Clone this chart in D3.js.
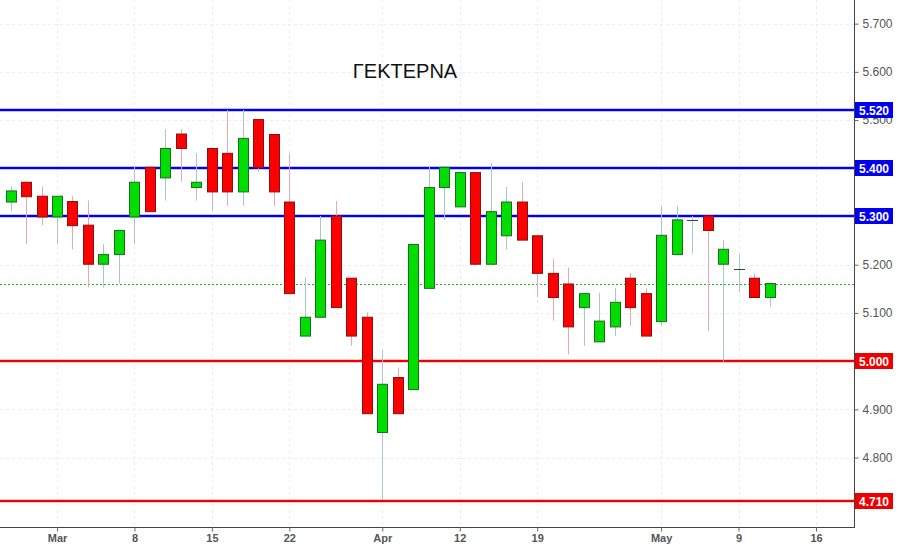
<!DOCTYPE html>
<html><head><meta charset="utf-8">
<script src="https://cdn.jsdelivr.net/npm/d3@7"></script>
<style>
html,body{margin:0;padding:0;background:#fff;}
svg{display:block;font-family:"Liberation Sans",Arial,sans-serif;}
</style></head>
<body><svg id="c" width="898" height="544"></svg>
<script>
const title = "ΓΕΚΤΕΡΝΑ";
const openV  = [5.330,5.371,5.342,5.299,5.331,5.282,5.201,5.221,5.299,5.402,5.380,5.471,5.360,5.441,5.431,5.351,5.501,5.470,5.330,5.052,5.091,5.301,5.172,5.091,4.852,4.966,4.941,5.151,5.360,5.320,5.391,5.201,5.260,5.330,5.260,5.182,5.160,5.111,5.040,5.071,5.172,5.140,5.082,5.221,5.292,5.301,5.201,5.192,5.172,5.132];
const highV  = [5.362,5.371,5.362,5.342,5.342,5.333,5.243,5.271,5.403,5.402,5.481,5.481,5.432,5.441,5.521,5.521,5.501,5.470,5.431,5.173,5.301,5.332,5.172,5.101,5.023,4.987,5.242,5.403,5.402,5.391,5.391,5.411,5.362,5.372,5.260,5.212,5.194,5.140,5.142,5.152,5.183,5.151,5.322,5.322,5.301,5.301,5.251,5.222,5.182,5.161];
const lowV   = [5.311,5.243,5.282,5.243,5.232,5.153,5.153,5.161,5.243,5.310,5.333,5.372,5.333,5.312,5.322,5.322,5.393,5.322,5.140,5.052,5.091,5.111,5.032,4.891,4.713,4.891,4.941,5.151,5.293,5.320,5.201,5.201,5.232,5.251,5.133,5.084,5.014,5.032,5.040,5.052,5.073,5.052,5.073,5.221,5.223,5.063,4.999,5.143,5.132,5.113];
const closeV = [5.353,5.341,5.299,5.342,5.281,5.201,5.221,5.271,5.371,5.310,5.441,5.441,5.371,5.351,5.351,5.462,5.401,5.351,5.140,5.091,5.251,5.111,5.052,4.891,4.952,4.891,5.242,5.360,5.402,5.391,5.201,5.310,5.330,5.251,5.182,5.132,5.071,5.140,5.083,5.122,5.111,5.052,5.261,5.293,5.292,5.271,5.232,5.192,5.132,5.161];
const tickIndex  = [3, 8, 13, 18, 24, 29, 34, 42, 47, 52];
const tickLabels = ["Mar","8","15","22","Apr","12","19","May","9","16"];
const priceTicks = [4.8,4.9,5.0,5.1,5.2,5.3,5.4,5.5,5.6,5.7];
const blueLevels = [5.52, 5.40, 5.30];
const redLevels  = [5.00, 4.71];

const svg = d3.select("#c");
const plotR = 854, plotB = 527;

const x = d3.scaleLinear().domain([3, 52]).range([57, 816]);
const y = d3.scaleLinear().domain([4.656, 5.749]).range([plotB, 0]);

const bars = openV.map((o,i)=>({i,o,h:highV[i],l:lowV[i],c:closeV[i]}));
const levelSet = blueLevels.concat(redLevels);
const hiddenByLevel = v => levelSet.some(l => Math.abs(l - v) < 1e-9);

// grid
const grid = svg.append("g");
grid.selectAll("line.v").data(tickIndex).join("line")
  .attr("x1",d=>Math.round(x(d))+0.5).attr("x2",d=>Math.round(x(d))+0.5)
  .attr("y1",0).attr("y2",plotB)
  .attr("stroke","#ececec").attr("stroke-dasharray","3,3");
grid.selectAll("line.h").data(priceTicks).join("line")
  .attr("x1",0).attr("x2",plotR)
  .attr("y1",d=>Math.round(y(d))+0.5).attr("y2",d=>Math.round(y(d))+0.5)
  .attr("stroke","#ececec").attr("stroke-dasharray","3,3");

// title
svg.append("text").attr("x",405).attr("y",78).attr("text-anchor","middle")
  .attr("font-size",20).attr("fill","#111").text(title);

// level lines
function levelLine(v, col, halo){
  const yy = Math.round(y(v));
  svg.append("line").attr("x1",0).attr("x2",plotR).attr("y1",yy).attr("y2",yy)
    .attr("stroke",halo).attr("stroke-width",4);
  svg.append("line").attr("x1",0).attr("x2",plotR).attr("y1",yy).attr("y2",yy)
    .attr("stroke",col).attr("stroke-width",2);
}
blueLevels.forEach(v=>levelLine(v,"#0000ee","rgba(120,120,255,0.45)"));
redLevels.forEach(v=>levelLine(v,"#ee0000","rgba(255,130,130,0.45)"));

// last close line
const lastC = closeV[closeV.length-1];
svg.append("line").attr("x1",0).attr("x2",plotR)
  .attr("y1",Math.round(y(lastC))+0.5).attr("y2",Math.round(y(lastC))+0.5)
  .attr("stroke","#22aa22").attr("stroke-dasharray","2,2");

// candles
const bw = 10;
const cg = svg.append("g");
cg.selectAll("line.wick").data(bars).join("line")
  .attr("x1",d=>Math.round(x(d.i))+0.5).attr("x2",d=>Math.round(x(d.i))+0.5)
  .attr("y1",d=>y(d.h)).attr("y2",d=>y(d.l))
  .attr("stroke",d=>d.c>=d.o?"#a9c6cf":"#e6a9b1").attr("stroke-width",1);
cg.selectAll("rect.body").data(bars.filter(d=>Math.abs(d.c-d.o)>0.002)).join("rect")
  .attr("x",d=>Math.round(x(d.i))-bw/2+0.5)
  .attr("y",d=>y(Math.max(d.o,d.c)))
  .attr("width",bw)
  .attr("height",d=>Math.abs(y(d.o)-y(d.c)))
  .attr("fill",d=>d.c>d.o?"#00dd00":"#ff0000")
  .attr("stroke",d=>d.c>d.o?"#1b6e1b":"#8a1010").attr("stroke-width",1);
cg.selectAll("line.doji").data(bars.filter(d=>Math.abs(d.c-d.o)<=0.002)).join("line")
  .attr("x1",d=>Math.round(x(d.i))-bw/2).attr("x2",d=>Math.round(x(d.i))+bw/2+1)
  .attr("y1",d=>Math.round(y(d.c))+0.5).attr("y2",d=>Math.round(y(d.c))+0.5)
  .attr("stroke","#2e4a3a").attr("stroke-width",1);

// axes
const yAxis = d3.axisRight(y).tickValues(priceTicks)
  .tickFormat(d => hiddenByLevel(d) ? "" : d3.format(".3f")(d)).tickSize(4).tickPadding(4);
const ya = svg.append("g").attr("transform",`translate(${plotR+0.5},0)`).call(yAxis);
ya.select(".domain").attr("d",`M0,0V${plotB}`).attr("stroke","#444");
ya.selectAll(".tick line").attr("stroke","#666");
ya.selectAll(".tick text").attr("fill","#555").attr("font-size",12).attr("font-family","Liberation Sans,Arial,sans-serif");

const xAxis = d3.axisBottom(x).tickValues(tickIndex).tickFormat((d,k)=>tickLabels[k]).tickSize(4).tickPadding(3);
const xa = svg.append("g").attr("transform",`translate(0,${plotB+0.5})`).call(xAxis);
xa.select(".domain").attr("d",`M0,0H${plotR+1}`).attr("stroke","#444");
xa.selectAll(".tick line").attr("stroke","#666");
xa.selectAll(".tick text").attr("fill","#555").attr("font-size",11).attr("font-weight","bold")
  .attr("font-family","'Liberation Sans Narrow','Arial Narrow',sans-serif");

// level labels
function levelLabel(v, col){
  const yy = Math.round(y(v));
  svg.append("rect").attr("x",plotR+1).attr("y",yy-8).attr("width",38).attr("height",16).attr("fill",col);
  svg.append("text").attr("x",plotR+20).attr("y",yy+4.5).attr("text-anchor","middle")
    .attr("fill","#fff").attr("font-size",12).attr("font-weight","bold").text(d3.format(".3f")(v));
}
blueLevels.forEach(v=>levelLabel(v,"#0000ee"));
redLevels.forEach(v=>levelLabel(v,"#ee0000"));
</script></body></html>
